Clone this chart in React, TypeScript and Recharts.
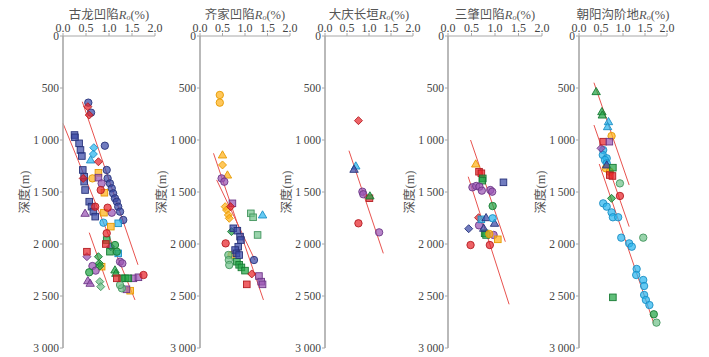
import React from "react";
import { ScatterChart, Scatter, XAxis, YAxis, ReferenceLine } from "recharts";

type P = [number, number]; // [Ro %, depth m]

const xTicks = [0, 0.5, 1, 1.5, 2];
const yTicks = [0, 500, 1000, 1500, 2000, 2500, 3000];
const titles = ["古龙凹陷", "齐家凹陷", "大庆长垣", "三肇凹陷", "朝阳沟阶地"];

// 古龙凹陷
const gl_dblueCircle: P[] = [[0.55, 641], [0.61, 737], [0.91, 1055], [0.95, 1288], [0.97, 1369], [1.02, 1417], [1.06, 1465], [1.09, 1513], [1.13, 1561], [1.17, 1593], [1.2, 1641], [1.24, 1689], [1.31, 1769]];
const gl_dblueSquare: P[] = [[0.25, 952], [0.26, 974], [0.35, 1032], [0.38, 1096], [0.41, 1154], [0.43, 1288], [0.46, 1353], [0.46, 1401], [0.48, 1481], [0.57, 1593], [0.62, 1641], [0.66, 1689], [0.7, 1737]];
const gl_dblueDiamond: P[] = [[1.04, 2026]];
const gl_lblueDiamond: P[] = [[0.67, 1074], [0.66, 1135]];
const gl_lblueTri: P[] = [[0.6, 1192]];
const gl_lblueSquare: P[] = [[1.2, 1801], [1.2, 2090]];
const gl_lblueCircle: P[] = [[0.88, 1795]];
const gl_redDiamond: P[] = [[0.54, 680], [0.57, 760], [0.77, 1209], [0.44, 1369]];
const gl_redCircle: P[] = [[0.82, 1481], [0.7, 1641], [0.97, 1651], [0.95, 1897], [1.75, 2298]];
const gl_redSquare: P[] = [[0.52, 2074], [1.17, 2330], [0.93, 2000]];
const gl_orangeSquare: P[] = [[0.77, 1315], [0.9, 1507], [0.89, 1699], [1.04, 1833], [0.84, 2218], [1.46, 2449]];
const gl_orangeCircle: P[] = [[0.64, 1369]];
const gl_purpleSquare: P[] = [[0.77, 1362], [1.38, 2436], [1.53, 2330], [1.64, 2320]];
const gl_purpleCircle: P[] = [[0.84, 1417], [1.06, 1699], [1.24, 2170], [1.29, 2186], [0.64, 2212], [0.71, 2256]];
const gl_purpleTri: P[] = [[0.48, 1705], [0.54, 2353], [0.59, 2378]];
const gl_purpleDiamond: P[] = [[0.52, 2122]];
const gl_greenSquare: P[] = [[0.95, 1962], [1.02, 2074], [1.28, 2330], [1.35, 2330], [1.42, 2330]];
const gl_greenCircle: P[] = [[1.13, 2010], [1.17, 2074], [0.57, 2272]];
const gl_greenTri: P[] = [[1.13, 2250], [1.15, 2282]];
const gl_greenDiamond: P[] = [[0.77, 2122], [0.79, 2186], [0.8, 2212]];
const gl_lgreenDiamond: P[] = [[0.8, 2362], [0.82, 2410]];
const gl_lgreenCircle: P[] = [[1.28, 2426], [1.24, 2394]];
const gl_lines: [P, P][] = [[[0.42, 632], [1.63, 2200]], [[0.0, 840], [1.565, 2538]], [[0.57, 1891], [1.01, 2442]]];

// 齐家凹陷
const qj_orangeCircle: P[] = [[0.44, 567], [0.44, 641], [0.7, 2106]];
const qj_orangeTri: P[] = [[0.5, 1144], [0.61, 1337]];
const qj_orangeDiamond: P[] = [[0.5, 1240], [0.56, 1641], [0.59, 1673], [0.63, 1721], [0.65, 1753]];
const qj_purpleCircle: P[] = [[0.48, 1369], [0.54, 1401]];
const qj_purpleSquare: P[] = [[0.72, 1609], [1.31, 2308], [1.36, 2362], [1.39, 2388]];
const qj_redDiamond: P[] = [[0.68, 1641], [1.15, 2288]];
const qj_redCircle: P[] = [[0.57, 1994]];
const qj_redSquare: P[] = [[1.04, 2388]];
const qj_lgreenSquare: P[] = [[1.13, 1705], [1.18, 1743], [1.28, 1913]];
const qj_greenSquare: P[] = [[0.82, 2170], [0.87, 2200], [0.92, 2225], [1.0, 2256]];
const qj_lblueTri: P[] = [[1.39, 1721]];
const qj_greenDiamond: P[] = [[0.7, 1881]];
const qj_dblueSquare: P[] = [[0.74, 1849], [0.83, 1872], [0.89, 1929], [0.91, 1962], [0.85, 2026], [0.78, 2058], [0.81, 2090], [0.87, 2106]];
const qj_lgreenCircle: P[] = [[0.63, 2106], [0.64, 2154], [0.65, 2202]];
const qj_dblueCircle: P[] = [[1.2, 2154]];
const qj_lines: [P, P][] = [[[0.3, 1128], [1.41, 2538]], [[0.37, 1384], [1.22, 2154]]];

// 大庆长垣
const dq_redDiamond: P[] = [[0.76, 814]];
const dq_lblueTri: P[] = [[0.7, 1250]];
const dq_dblueTri: P[] = [[0.66, 1282]];
const dq_purpleCircle: P[] = [[0.85, 1497], [0.87, 1522], [1.23, 1888]];
const dq_greenTri: P[] = [[1.02, 1538]];
const dq_redSquare: P[] = [[1.01, 1560]];
const dq_redCircle: P[] = [[0.76, 1801]];
const dq_lines: [P, P][] = [[[0.545, 1103], [1.325, 2090]]];

// 三肇凹陷
const sz_orangeTri: P[] = [[0.59, 1231]];
const sz_redSquare: P[] = [[0.66, 1305], [0.71, 1320]];
const sz_greenSquare: P[] = [[0.74, 1369], [0.73, 1391], [0.78, 1897], [0.81, 1913]];
const sz_dblueSquare: P[] = [[1.18, 1407]];
const sz_purpleCircle: P[] = [[0.52, 1455], [0.6, 1442], [0.67, 1449], [0.72, 1487], [0.9, 1481], [0.94, 1497], [0.66, 1821], [0.97, 1913]];
const sz_greenCircle: P[] = [[0.95, 1635]];
const sz_redDiamond: P[] = [[0.65, 1747]];
const sz_lblueSquare: P[] = [[0.71, 1763]];
const sz_dblueTri: P[] = [[0.81, 1747], [0.99, 1801], [0.76, 1849]];
const sz_lblueCircle: P[] = [[0.95, 1753]];
const sz_dblueDiamond: P[] = [[0.44, 1853]];
const sz_orangeCircle: P[] = [[0.88, 1904]];
const sz_orangeSquare: P[] = [[1.06, 1955]];
const sz_redCircle: P[] = [[0.48, 2010], [0.89, 2010]];
const sz_lines: [P, P][] = [[[0.48, 1000], [1.22, 1978]], [[0.43, 1353], [1.3, 2580]]];

// 朝阳沟阶地
const cy_greenTri: P[] = [[0.39, 535], [0.52, 728], [0.53, 760]];
const cy_lblueTri: P[] = [[0.67, 824], [0.65, 872]];
const cy_orangeCircle: P[] = [[0.74, 962], [0.61, 1272], [0.7, 1305]];
const cy_redSquare: P[] = [[0.55, 1016], [0.7, 1337], [0.76, 1346]];
const cy_purpleSquare: P[] = [[0.69, 1016]];
const cy_purpleDiamond: P[] = [[0.5, 1080]];
const cy_lblueCircle: P[] = [[0.55, 1096], [0.54, 1144], [0.63, 1176], [0.59, 1192], [0.63, 1224], [0.55, 1609], [0.63, 1641], [0.74, 1696], [0.77, 1743], [0.89, 1743], [0.96, 1939], [1.14, 1994], [1.2, 2026], [1.31, 2240], [1.3, 2298], [1.46, 2346], [1.48, 2404], [1.48, 2490], [1.52, 2538], [1.6, 2587]];
const cy_dblueTri: P[] = [[0.63, 1240]];
const cy_greenSquare: P[] = [[0.77, 1266], [0.77, 2513]];
const cy_lgreenCircle: P[] = [[0.93, 1417], [1.46, 1939], [1.76, 2756]];
const cy_redCircle: P[] = [[0.93, 1538]];
const cy_greenDiamond: P[] = [[0.74, 1561]];
const cy_greenCircle: P[] = [[1.7, 2676]];
const cy_lines: [P, P][] = [[[0.34, 449], [1.14, 1433]], [[0.34, 856], [1.14, 1833]], [[0.46, 1231], [1.7, 2763]]];

const COLORS: Record<string, [string, string]> = {
  dblue: ["#3a4aa6", "#27327a"],
  lblue: ["#2bb5ef", "#1b8ec4"],
  orange: ["#ffb21a", "#e59a00"],
  red: ["#e8262b", "#b31d22"],
  green: ["#22a545", "#167a33"],
  lgreen: ["#72c28b", "#43955e"],
  purple: ["#9a55b3", "#6c3787"],
};

type Series = { pts: P[]; color: string; shape: string };

const panels: { axisX: number; plotW: number; series: Series[]; lines: [P, P][] }[] = [
  {
    axisX: 63, plotW: 92, lines: gl_lines,
    series: [
      { pts: gl_dblueSquare, color: "dblue", shape: "square" },
      { pts: gl_dblueCircle, color: "dblue", shape: "circle" },
      { pts: gl_dblueDiamond, color: "dblue", shape: "diamond" },
      { pts: gl_lblueDiamond, color: "lblue", shape: "diamond" },
      { pts: gl_lblueTri, color: "lblue", shape: "triangle" },
      { pts: gl_lblueSquare, color: "lblue", shape: "square" },
      { pts: gl_lblueCircle, color: "lblue", shape: "circle" },
      { pts: gl_orangeSquare, color: "orange", shape: "square" },
      { pts: gl_orangeCircle, color: "orange", shape: "circle" },
      { pts: gl_purpleSquare, color: "purple", shape: "square" },
      { pts: gl_purpleCircle, color: "purple", shape: "circle" },
      { pts: gl_purpleTri, color: "purple", shape: "triangle" },
      { pts: gl_purpleDiamond, color: "purple", shape: "diamond" },
      { pts: gl_greenSquare, color: "green", shape: "square" },
      { pts: gl_greenCircle, color: "green", shape: "circle" },
      { pts: gl_greenTri, color: "green", shape: "triangle" },
      { pts: gl_greenDiamond, color: "green", shape: "diamond" },
      { pts: gl_lgreenDiamond, color: "lgreen", shape: "diamond" },
      { pts: gl_lgreenCircle, color: "lgreen", shape: "circle" },
      { pts: gl_redDiamond, color: "red", shape: "diamond" },
      { pts: gl_redCircle, color: "red", shape: "circle" },
      { pts: gl_redSquare, color: "red", shape: "square" },
    ],
  },
  {
    axisX: 200, plotW: 90, lines: qj_lines,
    series: [
      { pts: qj_orangeCircle, color: "orange", shape: "circle" },
      { pts: qj_orangeTri, color: "orange", shape: "triangle" },
      { pts: qj_orangeDiamond, color: "orange", shape: "diamond" },
      { pts: qj_purpleCircle, color: "purple", shape: "circle" },
      { pts: qj_purpleSquare, color: "purple", shape: "square" },
      { pts: qj_lgreenSquare, color: "lgreen", shape: "square" },
      { pts: qj_greenSquare, color: "green", shape: "square" },
      { pts: qj_lblueTri, color: "lblue", shape: "triangle" },
      { pts: qj_greenDiamond, color: "green", shape: "diamond" },
      { pts: qj_dblueSquare, color: "dblue", shape: "square" },
      { pts: qj_lgreenCircle, color: "lgreen", shape: "circle" },
      { pts: qj_dblueCircle, color: "dblue", shape: "circle" },
      { pts: qj_redDiamond, color: "red", shape: "diamond" },
      { pts: qj_redCircle, color: "red", shape: "circle" },
      { pts: qj_redSquare, color: "red", shape: "square" },
    ],
  },
  {
    axisX: 325, plotW: 88, lines: dq_lines,
    series: [
      { pts: dq_redDiamond, color: "red", shape: "diamond" },
      { pts: dq_lblueTri, color: "lblue", shape: "triangle" },
      { pts: dq_dblueTri, color: "dblue", shape: "triangle" },
      { pts: dq_purpleCircle, color: "purple", shape: "circle" },
      { pts: dq_redSquare, color: "red", shape: "square" },
      { pts: dq_greenTri, color: "green", shape: "triangle" },
      { pts: dq_redCircle, color: "red", shape: "circle" },
    ],
  },
  {
    axisX: 448, plotW: 94, lines: sz_lines,
    series: [
      { pts: sz_orangeTri, color: "orange", shape: "triangle" },
      { pts: sz_redSquare, color: "red", shape: "square" },
      { pts: sz_greenSquare, color: "green", shape: "square" },
      { pts: sz_dblueSquare, color: "dblue", shape: "square" },
      { pts: sz_purpleCircle, color: "purple", shape: "circle" },
      { pts: sz_greenCircle, color: "green", shape: "circle" },
      { pts: sz_redDiamond, color: "red", shape: "diamond" },
      { pts: sz_lblueSquare, color: "lblue", shape: "square" },
      { pts: sz_dblueTri, color: "dblue", shape: "triangle" },
      { pts: sz_lblueCircle, color: "lblue", shape: "circle" },
      { pts: sz_dblueDiamond, color: "dblue", shape: "diamond" },
      { pts: sz_orangeCircle, color: "orange", shape: "circle" },
      { pts: sz_orangeSquare, color: "orange", shape: "square" },
      { pts: sz_redCircle, color: "red", shape: "circle" },
    ],
  },
  {
    axisX: 579, plotW: 88, lines: cy_lines,
    series: [
      { pts: cy_greenTri, color: "green", shape: "triangle" },
      { pts: cy_lblueTri, color: "lblue", shape: "triangle" },
      { pts: cy_lblueCircle, color: "lblue", shape: "circle" },
      { pts: cy_purpleDiamond, color: "purple", shape: "diamond" },
      { pts: cy_orangeCircle, color: "orange", shape: "circle" },
      { pts: cy_redSquare, color: "red", shape: "square" },
      { pts: cy_purpleSquare, color: "purple", shape: "square" },
      { pts: cy_dblueTri, color: "dblue", shape: "triangle" },
      { pts: cy_greenSquare, color: "green", shape: "square" },
      { pts: cy_lgreenCircle, color: "lgreen", shape: "circle" },
      { pts: cy_redCircle, color: "red", shape: "circle" },
      { pts: cy_greenDiamond, color: "green", shape: "diamond" },
      { pts: cy_greenCircle, color: "green", shape: "circle" },
    ],
  },
];

const SERIF = "'Liberation Serif', 'Noto Sans CJK SC', serif";

const fmtDepth = (v: number) => (v >= 1000 ? `${Math.floor(v / 1000)} ${String(v % 1000).padStart(3, "0")}` : String(v));

const makeShape = (shape: string, color: string) => (props: any) => {
  const { cx, cy } = props;
  if (cx == null || cy == null) return <g />;
  const [fill, stroke] = COLORS[color];
  const common = { fill, fillOpacity: 0.72, stroke, strokeWidth: 0.9 };
  if (shape === "square") return <rect x={cx - 3.3} y={cy - 3.3} width={6.6} height={6.6} {...common} />;
  if (shape === "diamond")
    return <polygon points={`${cx},${cy - 4} ${cx + 4},${cy} ${cx},${cy + 4} ${cx - 4},${cy}`} {...common} />;
  if (shape === "triangle")
    return <polygon points={`${cx},${cy - 4.2} ${cx + 4.2},${cy + 3} ${cx - 4.2},${cy + 3}`} {...common} />;
  return <circle cx={cx} cy={cy} r={3.7} {...common} />;
};

const LEFT = 45;
const RIGHT = 14;

export default function App() {
  return (
    <div style={{ position: "absolute", left: 0, top: 0, width: 709, height: 357, background: "#fff", fontFamily: SERIF }}>
      {panels.map((p, i) => (
        <React.Fragment key={i}>
          <div
            style={{
              position: "absolute",
              left: p.axisX + p.plotW / 2,
              top: 13,
              transform: "translate(-50%, -50%)",
              whiteSpace: "nowrap",
              fontSize: 12.5,
              color: "#555",
            }}
          >
            {titles[i]}
            <i>R</i>
            <sub style={{ fontSize: 8, fontStyle: "italic", verticalAlign: "-1px" }}>o</sub>(%)
          </div>
          <div
            style={{
              position: "absolute",
              left: p.axisX - 40,
              top: 192,
              transform: "translate(-50%, -50%) rotate(-90deg)",
              whiteSpace: "nowrap",
              fontSize: 12.5,
              color: "#555",
            }}
          >
            深度(m)
          </div>
          <div style={{ position: "absolute", left: p.axisX - LEFT, top: 0 }}>
            <ScatterChart width={LEFT + p.plotW + RIGHT} height={357} margin={{ top: 6, right: RIGHT, bottom: 9, left: 3 }}>
              <XAxis
                type="number"
                dataKey="x"
                orientation="top"
                domain={[0, 2]}
                ticks={xTicks}
                tickFormatter={(v: number) => v.toFixed(1)}
                height={30}
                tickSize={3}
                tickMargin={1}
                interval={0}
                axisLine={{ stroke: "#a8a8a8", strokeWidth: 1 }}
                tickLine={{ stroke: "#a8a8a8" }}
                tick={{ fontSize: 12, fill: "#444", fontFamily: SERIF }}
                allowDataOverflow
              />
              <YAxis
                type="number"
                dataKey="y"
                reversed
                domain={[0, 3000]}
                ticks={yTicks}
                tickFormatter={fmtDepth}
                width={42}
                tickSize={3}
                tickMargin={1}
                interval={0}
                axisLine={{ stroke: "#a8a8a8", strokeWidth: 1.6 }}
                tickLine={{ stroke: "#a8a8a8" }}
                tick={{ fontSize: 11.5, fill: "#444", fontFamily: SERIF }}
                allowDataOverflow
              />
              {p.series.map((s, j) => (
                <Scatter
                  key={j}
                  data={s.pts.map(([x, y]) => ({ x, y }))}
                  shape={makeShape(s.shape, s.color)}
                  isAnimationActive={false}
                />
              ))}
              {p.lines.map((l, k) => (
                <ReferenceLine
                  key={`l${k}`}
                  segment={[{ x: l[0][0], y: l[0][1] }, { x: l[1][0], y: l[1][1] }]}
                  stroke="#e8534f"
                  strokeWidth={1}
                  ifOverflow="visible"
                />
              ))}
            </ScatterChart>
          </div>
        </React.Fragment>
      ))}
    </div>
  );
}
